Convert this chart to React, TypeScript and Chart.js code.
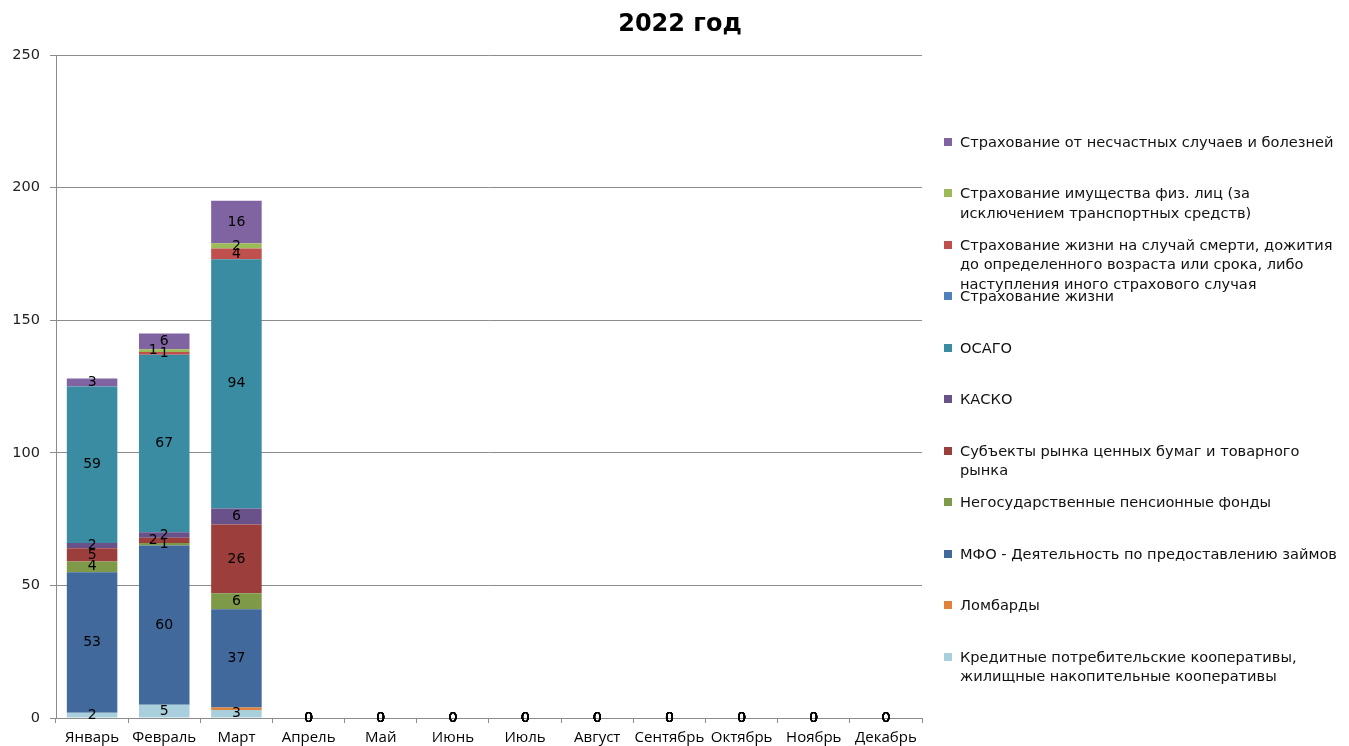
import React, { useEffect, useRef } from "react";
import { Chart, registerables } from "chart.js";

Chart.register(...registerables);

const title = "2022 год";
const months = ["Январь", "Февраль", "Март", "Апрель", "Май", "Июнь", "Июль", "Август", "Сентябрь", "Октябрь", "Ноябрь", "Декабрь"];
const yTicks = [0, 50, 100, 150, 200, 250];

// series, bottom to top of the stack
const kpk = [2, 5, 3, 0, 0, 0, 0, 0, 0, 0, 0, 0];
const lombard = [null, null, 1, 0, 0, 0, 0, 0, 0, 0, 0, 0];
const mfo = [53, 60, 37, 0, 0, 0, 0, 0, 0, 0, 0, 0];
const npf = [4, 1, 6, 0, 0, 0, 0, 0, 0, 0, 0, 0];
const securities = [5, 2, 26, 0, 0, 0, 0, 0, 0, 0, 0, 0];
const kasko = [2, 2, 6, 0, 0, 0, 0, 0, 0, 0, 0, 0];
const osago = [59, 67, 94, 0, 0, 0, 0, 0, 0, 0, 0, 0];
const life = [null, null, null, 0, 0, 0, 0, 0, 0, 0, 0, 0];
const lifeDeath = [null, 1, 4, 0, 0, 0, 0, 0, 0, 0, 0, 0];
const property = [null, 1, 2, 0, 0, 0, 0, 0, 0, 0, 0, 0];
const accident = [3, 6, 16, 0, 0, 0, 0, 0, 0, 0, 0, 0];

const seriesNames = [
  "Кредитные потребительские кооперативы,\nжилищные накопительные кооперативы",
  "Ломбарды",
  "МФО - Деятельность по предоставлению займов",
  "Негосударственные пенсионные фонды",
  "Субъекты рынка ценных бумаг и товарного\nрынка",
  "КАСКО",
  "ОСАГО",
  "Страхование жизни",
  "Страхование жизни на случай смерти, дожития\nдо определенного возраста или срока, либо\nнаступления иного страхового случая",
  "Страхование имущества физ. лиц (за\nисключением транспортных средств)",
  "Страхование от несчастных случаев и болезней",
];
const seriesValues = [kpk, lombard, mfo, npf, securities, kasko, osago, life, lifeDeath, property, accident];
const seriesColors = ["#A9CFDC", "#E0823A", "#41699C", "#7E9A48", "#9C3E3B", "#69528A", "#3A8CA3", "#4F81BD", "#C0504D", "#9BBB59", "#8064A2"];
// labels drawn only for zero values in this series (its tiny March value is hidden)
const zeroOnlyLabelSeries = [1];

const gridColor = "#8C8C8C";

const labelPlugin = {
  id: "stackLabels",
  afterDatasetsDraw(chart: any) {
    const ctx = chart.ctx;
    ctx.save();
    ctx.font = "14px 'DejaVu Sans'";
    ctx.fillStyle = "#000";
    ctx.textAlign = "center";
    ctx.textBaseline = "middle";
    const n = chart.data.labels.length;
    for (let i = 0; i < n; i++) {
      const placed: { x: number; y: number }[] = [];
      chart.data.datasets.forEach((ds: any, di: number) => {
        const el: any = chart.getDatasetMeta(di).data[i];
        const v = ds.data[i];
        if (!el || v === null || v === undefined) return;
        if (zeroOnlyLabelSeries.includes(di) && v !== 0) return;
        const y = (el.y + el.base) / 2;
        let x = el.x;
        if (v !== 0) {
          for (const off of [0, -11, 11]) {
            const cx = el.x + off;
            const clash = placed.some((p) => Math.abs(p.x - cx) < 9 && Math.abs(p.y - y) < 7.5);
            if (!clash) { x = cx; break; }
          }
          placed.push({ x, y });
        }
        ctx.fillText(String(v), x, y);
      });
    }
    ctx.restore();
  },
};

const titlePlugin = {
  id: "customTitle",
  afterDraw(chart: any) {
    const ctx = chart.ctx;
    ctx.save();
    ctx.font = "bold 24px 'DejaVu Sans'";
    ctx.fillStyle = "#000";
    ctx.textAlign = "center";
    ctx.textBaseline = "middle";
    ctx.fillText(title, 672, 17);
    ctx.restore();
  },
};

export default function App() {
  const ref = useRef<HTMLCanvasElement | null>(null);

  useEffect(() => {
    if (!ref.current) return;
    const chart = new Chart(ref.current, {
      type: "bar",
      data: {
        labels: months,
        datasets: seriesNames.map((n, i) => ({
          label: n.replace(/\n/g, " "),
          data: seriesValues[i] as any,
          backgroundColor: seriesColors[i],
          borderWidth: 0,
          barPercentage: 0.7,
          categoryPercentage: 1,
        })),
      },
      options: {
        animation: false,
        responsive: true,
        maintainAspectRatio: false,
        layout: { padding: { top: 47, right: 419, left: 0, bottom: 0 } },
        plugins: {
          legend: { display: false },
          title: { display: false },
          tooltip: { enabled: false },
        },
        scales: {
          x: {
            stacked: true,
            grid: { display: true, drawOnChartArea: false, drawTicks: true, tickLength: 5, color: gridColor },
            border: { display: true, color: gridColor },
            ticks: { color: "#000", font: { family: "'Open Sans'", size: 15 }, padding: 6, maxRotation: 0, autoSkip: false },
            afterFit: (s: any) => { s.height = 28; },
          },
          y: {
            stacked: true,
            min: 0,
            max: 250,
            afterBuildTicks: (s: any) => { s.ticks = yTicks.map((v) => ({ value: v })); },
            grid: { color: gridColor, tickLength: 6, drawTicks: true },
            border: { display: true, color: gridColor },
            ticks: { color: "#222", font: { family: "'DejaVu Sans'", size: 14.5 }, padding: 10 },
            afterFit: (s: any) => { s.width = 48; },
          },
        },
      },
      plugins: [labelPlugin, titlePlugin],
    });
    return () => chart.destroy();
  }, []);

  const legendOrder = seriesNames.map((_, i) => i).reverse();

  return (
    <div style={{ position: "relative", width: 1333, height: 738 }}>
      <canvas ref={ref} style={{ position: "absolute", left: 0, top: 0 }} />
      <div style={{ position: "absolute", left: 0, top: 0, width: 1333, height: 738 }}>
        {legendOrder.map((si, k) => (
          <div
            key={si}
            style={{
              position: "absolute",
              left: 936,
              top: 123.5 + k * 51.5,
              display: "flex",
              alignItems: "flex-start",
              fontFamily: "'DejaVu Sans'",
              fontSize: 14.6,
              lineHeight: "19.5px",
              color: "#111",
              whiteSpace: "nowrap",
            }}
          >
            <span style={{ display: "inline-block", width: 8, height: 8, marginTop: 6, marginRight: 8, background: seriesColors[si] }} />
            <span>
              {seriesNames[si].split("\n").map((line, j) => (
                <React.Fragment key={j}>
                  {j > 0 && <br />}
                  {line}
                </React.Fragment>
              ))}
            </span>
          </div>
        ))}
      </div>
    </div>
  );
}
